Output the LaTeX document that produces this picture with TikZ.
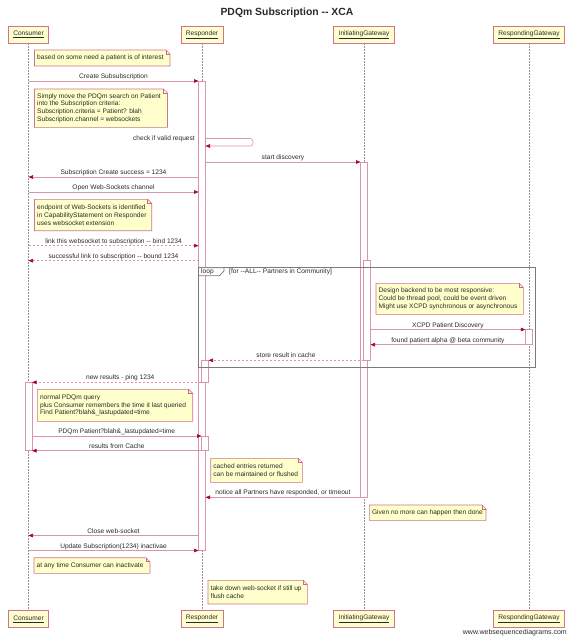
\documentclass[tikz,border=0pt]{standalone}
\usepackage{fontspec}
\setmainfont{Liberation Sans}
\usetikzlibrary{arrows.meta,calc}
\definecolor{wsdred}{HTML}{A80036}
\colorlet{linecol}{wsdred!42}
\colorlet{boxcol}{wsdred!55}
\definecolor{partfill}{HTML}{FEFECE}
\definecolor{notefill}{HTML}{FFFFCC}
\definecolor{framegray}{HTML}{7A7A7A}
\definecolor{txt}{HTML}{2A2A2A}
\tikzset{
  lbl/.style={font=\fontsize{6.6}{7.75}\selectfont, text=txt, inner sep=0pt},
  part/.style={draw=boxcol, line width=0.6pt, fill=partfill, minimum height=17pt, inner xsep=4.9pt, inner ysep=0pt, font=\fontsize{6.6}{7.75}\selectfont, text=txt},
  lifeline/.style={draw=gray!85, line width=0.5pt, dash pattern=on 1.5pt off 1.5pt},
  actbar/.style={draw=linecol, line width=0.6pt, fill=white},
  msgline/.style={draw=linecol, line width=0.6pt, -{Triangle[length=4.5pt,width=3.6pt,color=wsdred]}},
  msgdash/.style={msgline, dash pattern=on 2pt off 2pt},
  notebox/.style={draw=boxcol, line width=0.6pt, fill=notefill},
  loopframe/.style={draw=framegray, line width=0.8pt},
}
\newcommand\sqmsg[6]{%
  \coordinate (#1s) at (#2,#4);
  \coordinate (#1e) at (#3,#4);
  \draw[#5] (#1s) -- (#1e);
  \node[lbl,anchor=base] (#1l) at ($(#1s)!0.5!(#1e)+(0,-2.5)$) {#6};
}
\newcommand\wsdnote[6]{%
  \draw[notebox] (#2,#3) -- ({#4-4},#3) -- (#4,{#3+4}) -- (#4,#5) -- (#2,#5) -- cycle;
  \draw[wsdred!60, line width=0.5pt] ({#4-4},#3) -- ({#4-4},{#3+4}) -- (#4,{#3+4});
  \node[lbl, anchor=west, align=left] (#1) at ({#2+2.5},{(#3+#5)/2}) {#6};
}
\begin{document}
\begin{tikzpicture}[x=1pt,y=-1pt]
\useasboundingbox (0,0) rectangle (572,640);
\fill[white] (0,0) rectangle (572,640);

\node[font=\fontsize{10.4}{12}\selectfont\bfseries, text=txt] (title) at (287,12.5) {PDQm Subscription -{}- XCA};

% participants
\node[part] (cT) at (28.5,34.5) {\underline{Consumer}};
\node[part] (rT) at (202,34.5) {\underline{Responder}};
\node[part] (iT) at (364,34.5) {\underline{InitiatingGateway}};
\node[part] (gT) at (529,34.5) {\underline{RespondingGateway}};
\node[part] (cB) at (28.5,619) {\underline{Consumer}};
\node[part] (rB) at (202,619) {\underline{Responder}};
\node[part] (iB) at (364,619) {\underline{InitiatingGateway}};
\node[part] (gB) at (529,619) {\underline{RespondingGateway}};

\draw[lifeline] (cT) -- (cB);
\draw[lifeline] (rT) -- (rB);
\draw[lifeline] (iT) -- (iB);
\draw[lifeline] (gT) -- (gB);

% activation bars
\draw[actbar] (198.5,81) rectangle (205.5,550.5);
\draw[actbar] (360.5,162) rectangle (367.5,497.3);
\draw[actbar] (363.5,260.7) rectangle (370.5,360.3);
\draw[actbar] (525.3,329.5) rectangle (532.3,344.7);
\draw[actbar] (201.5,360.3) rectangle (208.5,382.3);
\draw[actbar] (201.5,436) rectangle (208.5,450.7);
\draw[actbar] (25,382.3) rectangle (32,450.7);

% loop frame
\draw[loopframe] (198.5,267.7) rectangle (535,367.3);
\draw[loopframe, fill=white] (198.5,267.7) -- (224,267.7) -- (224,271) -- (219.5,275.7) -- (198.5,275.7) -- cycle;
\node[lbl, anchor=base west] (looplbl) at (201,273.6) {loop};
\node[lbl, anchor=base west] (loopcond) at (229,273.6) {[for -{}-ALL-{}- Partners in Community]};

% notes
\wsdnote{n1}{34.5}{50}{170}{66}{based on some need a patient is of interest}
\wsdnote{n2}{34.5}{89}{167.5}{127.3}{Simply move the PDQm search on Patient\\into the Subscription criteria:\\Subscription.criteria = Patient? blah\\Subscription.channel = websockets}
\wsdnote{n3}{34.5}{199.3}{151.7}{230.7}{endpoint of Web-Sockets is identified\\in CapabilityStatement on Responder\\uses websocket extension}
\wsdnote{n4}{376}{283.3}{523.3}{314.3}{Design backend to be most responsive:\\Could be thread pool, could be event driven\\Might use XCPD synchronous or asynchronous}
\wsdnote{n5}{37.3}{389.3}{192.7}{421.3}{normal PDQm query\\plus Consumer remembers the time it last queried\\Find Patient?blah\&\_lastupdated=time}
\wsdnote{n6}{210.7}{458.3}{302.3}{482.3}{cached entries returned\\can be maintained or flushed}
\wsdnote{n7}{369.3}{505}{486}{520.3}{Given no more can happen then done}
\wsdnote{n8}{34}{557.7}{150}{573.3}{at any time Consumer can inactivate}
\wsdnote{n9}{208}{580.3}{307.3}{604}{take down web-socket if still up\\flush cache}

% messages
\sqmsg{m1}{28.5}{198.5}{81}{msgline}{Create Subsubscription}
\coordinate (m2s) at (205.5,138.5);
\coordinate (m2c) at (253,138.5);
\coordinate (m2d) at (253,146);
\coordinate (m2e) at (205.5,146);
\draw[msgline, rounded corners=3pt] (m2s) -- (m2c) -- (m2d) -- (m2e);
\node[lbl, anchor=base east] (m2l) at (195,140.2) {check if valid request};
\sqmsg{m3}{205.5}{360.5}{162}{msgline}{start discovery}
\sqmsg{m4}{198.5}{28.5}{177}{msgline}{Subscription Create success = 1234}
\sqmsg{m5}{28.5}{198.5}{192}{msgline}{Open Web-Sockets channel}
\sqmsg{m6}{28.5}{198.5}{245.7}{msgdash}{link this websocket to subscription -{}- bind 1234}
\sqmsg{m7}{198.5}{28.5}{260.7}{msgdash}{successful link to subscription -{}- bound 1234}
\sqmsg{m8}{370.5}{525.3}{329.5}{msgline}{XCPD Patient Discovery}
\sqmsg{m9}{525.3}{370.5}{344.7}{msgline}{found patient alpha @ beta community}
\sqmsg{m10}{363.5}{208.5}{360.3}{msgdash}{store result in cache}
\sqmsg{m11}{208.5}{32}{382.3}{msgdash}{new results - ping 1234}
\sqmsg{m12}{32}{201.5}{436}{msgline}{PDQm Patient?blah\&\_lastupdated=time}
\sqmsg{m13}{201.5}{32}{450.7}{msgline}{results from Cache}
\sqmsg{m14}{360.5}{205.5}{497.3}{msgline}{notice all Partners have responded, or timeout}
\sqmsg{m15}{198.5}{28.5}{535.5}{msgline}{Close web-socket}
\sqmsg{m16}{28.5}{198.5}{550.5}{msgline}{Update Subscription(1234) inactivae}

\node[anchor=base east, font=\fontsize{7}{8}\selectfont, text=txt, inner sep=0pt] (wm) at (567,634.5) {www.websequencediagrams.com};
\end{tikzpicture}
\end{document}
